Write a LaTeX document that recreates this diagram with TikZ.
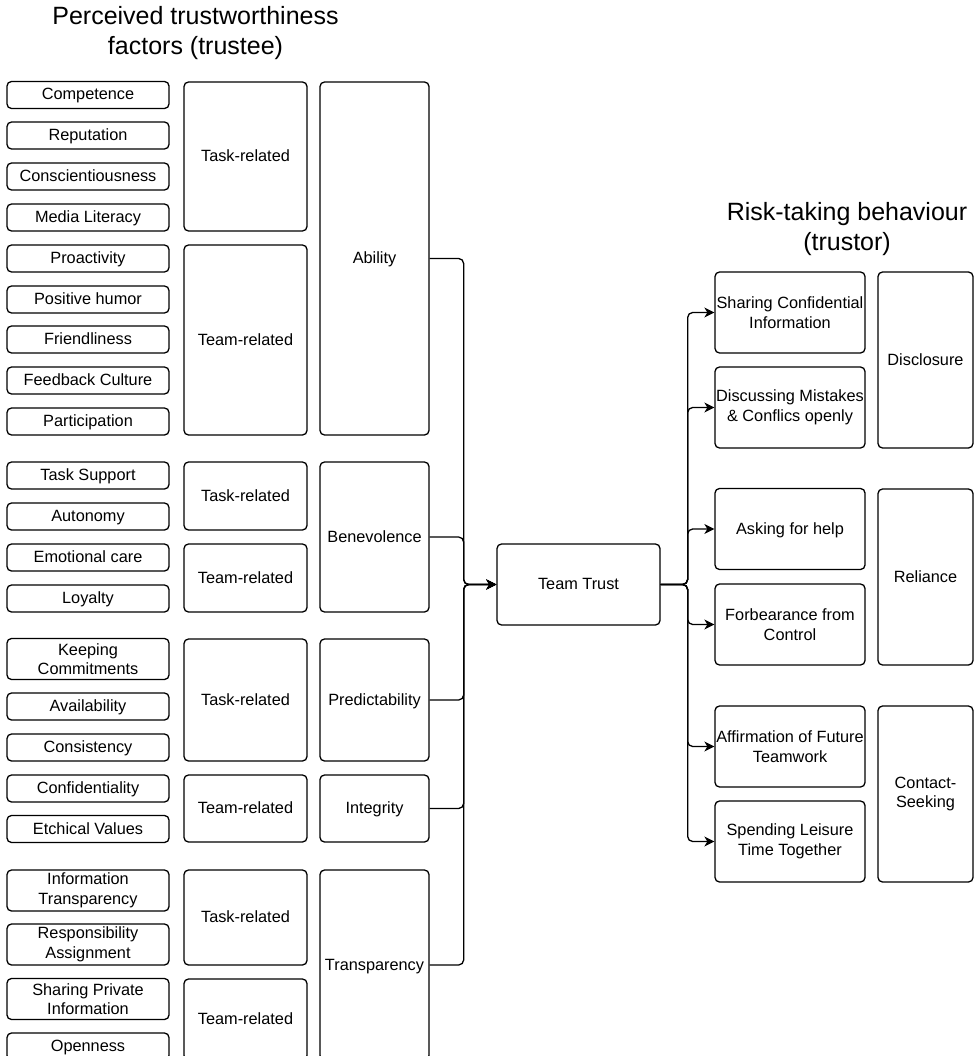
\documentclass[tikz,border=0pt]{standalone}
\usepackage{fontspec}
\setmainfont{Liberation Sans}
\usetikzlibrary{arrows.meta}
\begin{document}
\begin{tikzpicture}[x=1pt,y=-1pt,
  box/.style={draw=black, line width=1.3pt, rounded corners=4.5pt, inner sep=0pt,
    align=center, font=\fontsize{16.3}{19.6}\selectfont},
  one/.style={text height=15pt, text depth=5pt},
  leaf/.style={box, one, minimum width=162pt, minimum height=27pt},
  leafii/.style={box, minimum width=162pt, minimum height=41pt},
  grp/.style={box, one, minimum width=123pt, minimum height=#1},
  cat/.style={box, one, minimum width=109pt, minimum height=#1},
  rbox/.style={box, minimum width=150pt, minimum height=81pt},
  rcat/.style={box, minimum width=95pt, minimum height=176pt},
  heading/.style={align=center, inner sep=0pt, font=\fontsize{25}{29.5}\selectfont},
  conn/.style={draw=black, line width=1.3pt, rounded corners=5pt},
  arr/.style={conn, -{Stealth[length=10pt, width=10pt, inset=3pt]}}
]
\clip (0,0) rectangle (974,1056);

% headings
\node[heading] (lefthead) at (195.5,33) {Perceived trustworthiness\\factors (trustee)};
\node[heading] (righthead) at (847,229) {Risk-taking behaviour\\(trustor)};

% individual trustworthiness factors
\node[leaf] (competence) at (88,95) {Competence};
\node[leaf] (reputation) at (88,135.5) {Reputation};
\node[leaf] (conscient) at (88,176.5) {Conscientiousness};
\node[leaf] (media) at (88,217.5) {Media Literacy};
\node[leaf] (proactivity) at (88,258.5) {Proactivity};
\node[leaf] (humor) at (88,299.5) {Positive humor};
\node[leaf] (friendly) at (88,339.5) {Friendliness};
\node[leaf] (feedback) at (88,380.5) {Feedback Culture};
\node[leaf] (particip) at (88,421.5) {Participation};

\node[leaf] (tasksupport) at (88,475.5) {Task Support};
\node[leaf] (autonomy) at (88,516.5) {Autonomy};
\node[leaf] (emocare) at (88,557.5) {Emotional care};
\node[leaf] (loyalty) at (88,598.5) {Loyalty};

\node[leafii] (keeping) at (88,659) {Keeping\\Commitments};
\node[leaf] (avail) at (88,706.5) {Availability};
\node[leaf] (consist) at (88,747.5) {Consistency};
\node[leaf] (confid) at (88,788.5) {Confidentiality};
\node[leaf] (ethics) at (88,829) {Etchical Values};

\node[leafii] (infotrans) at (88,890.5) {Information\\Transparency};
\node[leafii] (respons) at (88,944.5) {Responsibility\\Assignment};
\node[leafii] (sharepriv) at (88,999) {Sharing Private\\Information};
\node[leaf] (openness) at (88,1046.5) {Openness};

% task / team groupings
\node[grp=149pt] (abtask) at (245.5,156.5) {Task-related};
\node[grp=190pt] (abteam) at (245.5,340) {Team-related};
\node[grp=68pt] (betask) at (245.5,496) {Task-related};
\node[grp=68pt] (beteam) at (245.5,578) {Team-related};
\node[grp=122pt] (prtask) at (245.5,700) {Task-related};
\node[grp=67pt] (inteam) at (245.5,808.5) {Team-related};
\node[grp=95pt] (trtask) at (245.5,917.5) {Task-related};
\node[grp=81pt] (trteam) at (245.5,1019.5) {Team-related};

% trustworthiness dimensions
\node[cat=353pt] (ability) at (374.5,258.5) {Ability};
\node[cat=150pt] (benev) at (374.5,537) {Benevolence};
\node[cat=122pt] (predict) at (374.5,700) {Predictability};
\node[cat=67pt] (integ) at (374.5,808.5) {Integrity};
\node[cat=190pt] (transp) at (374.5,965) {Transparency};

% central construct
\node[box, one, minimum width=163pt, minimum height=81pt] (trust) at (578.5,584.5) {Team Trust};

% risk-taking behaviours
\node[rbox] (shareconf) at (790,312.5) {Sharing Confidential\\Information};
\node[rbox] (discuss) at (790,407.5) {Discussing Mistakes\\\& Conflics openly};
\node[rbox, one] (askhelp) at (790,529) {Asking for help};
\node[rbox] (forbear) at (790,624.5) {Forbearance from\\Control};
\node[rbox] (affirm) at (790,746.5) {Affirmation of Future\\Teamwork};
\node[rbox] (leisure) at (790,841.5) {Spending Leisure\\Time Together};

\node[rcat, one] (disclosure) at (925.5,360) {Disclosure};
\node[rcat, one] (reliance) at (925.5,577) {Reliance};
\node[rcat] (contact) at (925.5,794) {Contact-\\Seeking};

% dimensions feed into team trust
\foreach \src in {ability,benev,predict,integ,transp}
  \draw[arr] (\src.east) -- ++(34,0) |- (trust.west);

% team trust leads to risk-taking behaviours
\foreach \dst in {shareconf,discuss,askhelp,forbear,affirm,leisure}
  \draw[arr] (trust.east) -- ++(27,0) |- (\dst.west);
\end{tikzpicture}
\end{document}
